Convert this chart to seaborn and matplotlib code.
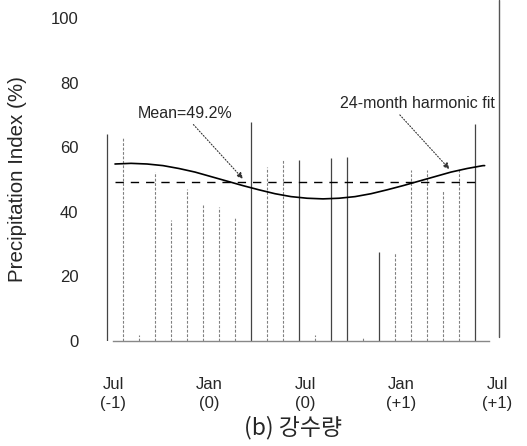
import numpy as np
import pandas as pd
import matplotlib
matplotlib.use("Agg")
import matplotlib.pyplot as plt
import seaborn as sns

# ---- data ----
months = list(range(24))  # Jul(-1) ... Jun(+1)
precip_index = [64, 63, 2, 52.4, 37.5, 47, 42, 41.6, 38.5, 67.9, 54, 56,
                56, 2, 56.7, 57, 1, 27.6, 27.2, 53, 53, 46.7, 53.6, 67.2]
strong_bar = [True, False, False, False, False, False, False, False, False, True, False, False,
              True, False, True, True, False, True, False, False, False, False, False, True]
fit_t = [0.5 + k for k in range(24)] + [23.6]
fit_values = [54.8, 55.0, 54.8, 54.3, 53.4, 52.3, 50.9, 49.5, 48.1, 46.8, 45.6, 44.7,
              44.2, 44.0, 44.2, 44.7, 45.6, 46.8, 48.1, 49.5, 50.9, 52.3, 53.4, 54.3, 54.3]
mean_value = 49.2
mean_span = [0.5, 23.3]
tick_pos = [0.4, 6.4, 12.4, 18.4, 24.4]
tick_labels = ["Jul\n(-1)", "Jan\n(0)", "Jul\n(0)", "Jan\n(+1)", "Jul\n(+1)"]
y_ticks = [0, 20, 40, 60, 80, 100]

sns.set_style("white")
plt.rcParams["font.family"] = ["Liberation Sans", "DejaVu Sans"]

fig = plt.figure(figsize=(5.27, 4.46), dpi=100)
ax = fig.add_axes([102.2 / 527, 1 - 341 / 446, (500 - 102.2) / 527, 323 / 446])

bars = pd.DataFrame({"month": months, "value": precip_index, "strong": strong_bar})
s = bars[bars.strong]
w = bars[~bars.strong]
ax.vlines(s.month, 0, s.value, color="#444444", lw=0.9)
ax.vlines(w.month, 0, w.value, color="#808080", lw=0.8, linestyles=(0, (2.5, 1.5)))

fit = pd.DataFrame({"t": fit_t, "v": fit_values})
sns.lineplot(data=fit, x="t", y="v", ax=ax, color="black", lw=1.2)

ax.plot(mean_span, [mean_value, mean_value], color="black", lw=1.0, dashes=(6, 5))

ax.annotate("", xy=(8.5, 50.2), xytext=(5.4, 67),
            arrowprops=dict(arrowstyle="-|>", color="#333333", lw=0.8, linestyle=":",
                            mutation_scale=9, shrinkA=0, shrinkB=0))
ax.text(4.9, 70.3, "Mean=49.2%", ha="center", va="center", fontsize=11.5)
ax.annotate("", xy=(21.4, 53.2), xytext=(18.3, 70),
            arrowprops=dict(arrowstyle="-|>", color="#333333", lw=0.8, linestyle=":",
                            mutation_scale=9, shrinkA=0, shrinkB=0))
ax.text(19.4, 73.4, "24-month harmonic fit", ha="center", va="center", fontsize=11.5)

ax.set_xlim(-0.3, 24.56)
ax.set_ylim(0, 100)
ax.set_xticks(tick_pos)
ax.set_xticklabels(tick_labels, fontsize=12, linespacing=1.3)
ax.set_yticks(y_ticks)
ax.set_yticklabels([str(v) for v in y_ticks], fontsize=12)
ax.tick_params(axis="x", length=0, pad=26)
ax.tick_params(axis="y", length=0, pad=17)
ax.set_xlabel("")
ax.set_ylabel("Precipitation Index (%)", fontsize=14.8)
ax.yaxis.set_label_coords(-0.19, 0.5)

for side in ["top", "left", "right"]:
    ax.spines[side].set_visible(False)
ax.spines["bottom"].set_color("#888888")
ax.spines["bottom"].set_linewidth(1.0)
ax.spines["bottom"].set_bounds(0.375, 23.9)
# right-hand frame line of the original panel
ax.axvline(24.5, ymin=0.012, ymax=1.055, color="#555555", lw=1.0, clip_on=False)

fig.text(293 / 527, 1 - 428 / 446, "(b) 강수량", ha="center", va="center", fontsize=16.5,
         family=["Noto Sans CJK KR", "DejaVu Sans"])

fig.savefig("out.png", dpi=100)
